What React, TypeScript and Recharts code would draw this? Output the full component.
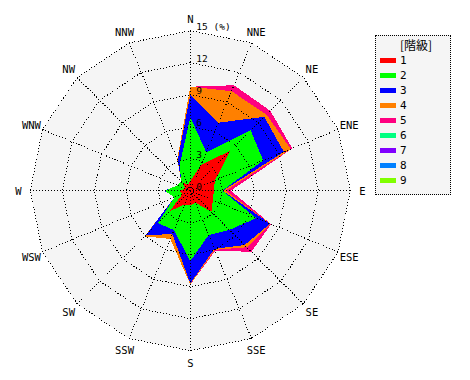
import React from 'react';
import { RadarChart, Radar, PolarGrid, PolarAngleAxis, PolarRadiusAxis } from 'recharts';

const directions = ['N', 'NNE', 'NE', 'ENE', 'E', 'ESE', 'SE', 'SSE', 'S', 'SSW', 'SW', 'WSW', 'W', 'WNW', 'NW', 'NNW'];
const classLabels = ['1', '2', '3', '4', '5', '6', '7', '8', '9'];
const classColors = ['#ff0000', '#00ff00', '#0000ff', '#ff8000', '#ff0080', '#00ff80', '#8000ff', '#0080ff', '#80ff00'];

// frequency (%) of each class per direction
const class1 = [0.9, 2.6, 5.3, 2.5, 2.2, 2.3, 2.8, 1.2, 1.4, 1.4, 2.7, 0.8, 1.0, 0.5, 1.1, 0.6];
const class2 = [6.0, 1.3, 2.7, 4.9, 0.8, 4.4, 2.4, 3.3, 5.2, 2.6, 1.6, 0.8, 1.4, 0.8, 0.1, 2.0];
const class3 = [2.1, 3.0, 1.8, 2.1, 0.05, 1.4, 2.0, 1.4, 2.1, 0.4, 1.6, 0, 0.05, 0, 0, 0.5];
const class4 = [0.75, 3.2, 0.3, 0.7, 0.25, 0.05, 0.3, 0.1, 0.1, 0.5, 0.15, 0, 0, 0, 0, 0.1];
const class5 = [0, 0.6, 0.5, 0.15, 0.5, 0.05, 0.6, 0.1, 0, 0, 0, 0, 0, 0, 0, 0];
const class6 = [0, 0, 0, 0, 0, 0, 0, 0, 0, 0, 0, 0, 0, 0, 0, 0];
const class7 = [0, 0, 0, 0, 0, 0, 0, 0, 0, 0, 0, 0, 0, 0, 0, 0];
const class8 = [0, 0, 0, 0, 0, 0, 0, 0, 0, 0, 0, 0, 0, 0, 0, 0];
const class9 = [0, 0, 0, 0, 0, 0, 0, 0, 0, 0, 0, 0, 0, 0, 0, 0];

const radiusTicks = [0, 3, 6, 9, 12, 15];
const unitLabel = '(%)';
const legendTitle = '[階級]';

const classes = [class1, class2, class3, class4, class5, class6, class7, class8, class9];
const maxTick = radiusTicks[radiusTicks.length - 1];

// cumulative (stacked) table
const data = directions.map((dir, di) => {
  const row: Record<string, number | string> = { dir, bg: maxTick };
  let acc = 0;
  classes.forEach((arr, ci) => {
    acc += arr[di];
    row[`c${ci}`] = Math.round(acc * 1000) / 1000;
  });
  return row;
});

const W = 470;
const H = 380;
const CX = 190.3;
const CY = 190.7;
const R = 160;
const LABEL_R = 172;

const drawOrder = classes
  .map((arr, i) => ({ i, total: arr.reduce((a, b) => a + b, 0) }))
  .filter((c) => c.total > 0)
  .map((c) => c.i)
  .reverse();

const AngleTick = (props: any) => {
  const { x, y, payload } = props;
  const dx = x - CX;
  const dy = y - CY;
  const d = Math.sqrt(dx * dx + dy * dy) || 1;
  const tx = CX + (dx / d) * LABEL_R;
  const ty = CY + (dy / d) * LABEL_R;
  return (
    <text x={tx} y={ty} textAnchor="middle" dominantBaseline="central" fontSize={10.5} fontFamily="DejaVu Sans Mono" fill="#000">
      {payload.value}
    </text>
  );
};

const RadiusTick = (props: any) => {
  const { x, y, payload } = props;
  const v = payload.value;
  const label = v === maxTick ? `${v} ${unitLabel}` : `${v}`;
  return (
    <text x={x + 6} y={y - 1} textAnchor="start" fontSize={9.5} fontFamily="DejaVu Sans Mono" fill="#000">
      {label}
    </text>
  );
};

export default function App() {
  return (
    <div style={{ position: 'fixed', left: 0, top: 0, width: W, height: H, background: '#fff' }}>
      <style>{`.crisp path, .crisp line, .crisp polygon { shape-rendering: crispEdges; }`}</style>
      <div className="crisp" style={{ position: 'absolute', left: 0, top: 0 }}>
        <RadarChart width={W} height={H} data={data} cx={CX} cy={CY} outerRadius={R} margin={{ top: 0, right: 0, bottom: 0, left: 0 }}>
          <PolarAngleAxis dataKey="dir" tick={false} axisLine={false} tickLine={false} />
          <PolarRadiusAxis domain={[0, maxTick]} ticks={radiusTicks} tick={false} axisLine={false} tickLine={false} />
          <Radar dataKey="bg" fill="#f5f5f5" fillOpacity={1} stroke="none" isAnimationActive={false} />
          {drawOrder.map((i) => (
            <Radar key={i} dataKey={`c${i}`} fill={classColors[i]} fillOpacity={1} stroke="none" isAnimationActive={false} />
          ))}
        </RadarChart>
      </div>
      <div className="crisp" style={{ position: 'absolute', left: 0, top: 0 }}>
        <RadarChart width={W} height={H} data={data} cx={CX} cy={CY} outerRadius={R} margin={{ top: 0, right: 0, bottom: 0, left: 0 }}>
          <PolarGrid gridType="polygon" stroke="#000" strokeDasharray="1 2" strokeWidth={1} />
          <PolarAngleAxis dataKey="dir" tick={<AngleTick />} axisLine={false} tickLine={false} />
          <PolarRadiusAxis angle={90} domain={[0, maxTick]} ticks={radiusTicks} tick={<RadiusTick />} axisLine={false} tickLine={false} />
          <Radar dataKey="bg" fill="none" fillOpacity={0} stroke="none" isAnimationActive={false} />
        </RadarChart>
      </div>
      <div
        style={{
          position: 'absolute',
          left: 375,
          top: 35,
          width: 76,
          height: 160,
          boxSizing: 'border-box',
          border: '1px dotted #000',
          background: '#f5f5f5',
        }}
      >
        <div
          style={{
            position: 'absolute',
            left: 0,
            top: 1,
            width: 74,
            paddingLeft: 6,
            boxSizing: 'border-box',
            height: 16,
            lineHeight: '16px',
            textAlign: 'center',
            fontSize: 12,
            fontFamily: '"Noto Sans CJK JP"',
            color: '#000',
          }}
        >
          {legendTitle}
        </div>
        {classLabels.map((lab, i) => (
          <div
            key={lab}
            style={{
              position: 'absolute',
              left: 0,
              top: 16.5 + i * 15,
              height: 15,
              display: 'flex',
              alignItems: 'center',
            }}
          >
            <div style={{ marginLeft: 4, width: 16, height: 5, background: classColors[i] }} />
            <div style={{ marginLeft: 4, fontSize: 11, fontFamily: 'DejaVu Sans Mono', color: '#000', lineHeight: '15px' }}>{lab}</div>
          </div>
        ))}
      </div>
    </div>
  );
}
